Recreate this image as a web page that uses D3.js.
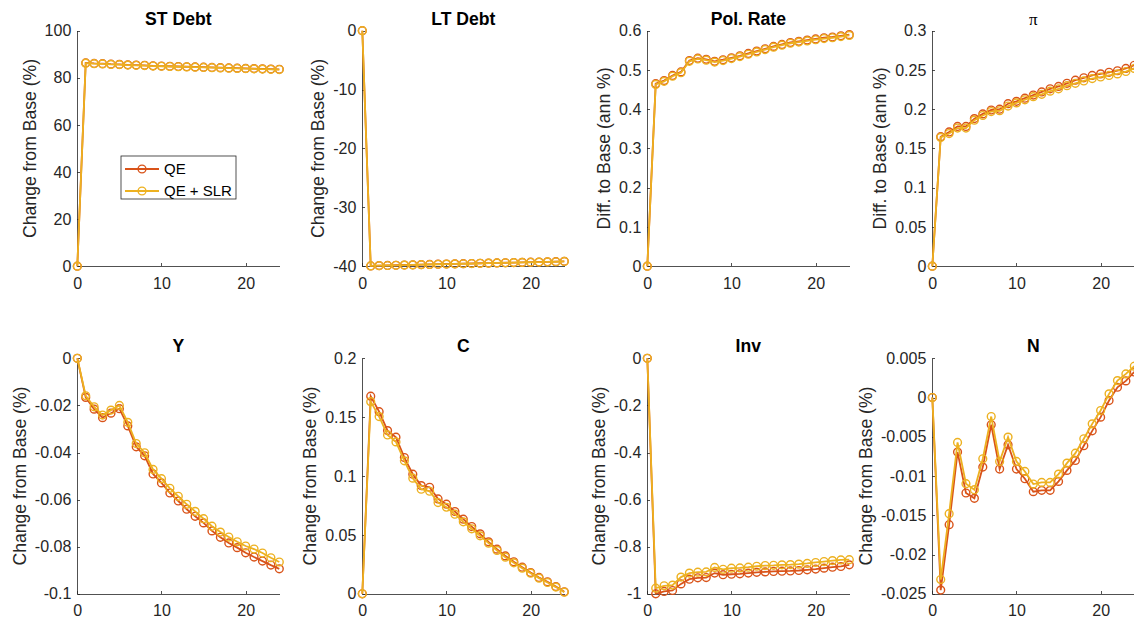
<!DOCTYPE html>
<html>
<head>
  <meta charset="utf-8">
  <title>QE vs QE + SLR</title>
  <script src="https://cdn.jsdelivr.net/npm/d3@7"></script>
  <style>
    body { margin: 0; background: #fff; }
    .axis path, .axis line { fill: none; stroke: #262626; stroke-width: 0.8; shape-rendering: crispEdges; }
    .axis text { font-family: "Liberation Sans", Arial, sans-serif; font-size: 16px; fill: #262626; }
    .title { font-family: "Liberation Sans", Arial, sans-serif; font-size: 17.6px; font-weight: bold; fill: #000; }
    .ylabel { font-family: "Liberation Sans", Arial, sans-serif; font-size: 17.6px; fill: #262626; }
    .legend text { font-family: "Liberation Sans", Arial, sans-serif; font-size: 15px; fill: #000; }
  </style>
</head>
<body>
  <div id="box"></div>
  <script>
    // periods (x axis)
    const periods = [0, 1, 2, 3, 4, 5, 6, 7, 8, 9, 10, 11, 12, 13, 14, 15, 16, 17, 18, 19, 20, 21, 22, 23, 24]
    const xTicks = [0, 10, 20]

    const seriesNames = ['QE', 'QE + SLR']
    const seriesColors = ['#D95319', '#EDB120']

    const titles = ['ST Debt', 'LT Debt', 'Pol. Rate', 'π', 'Y', 'C', 'Inv', 'N']
    const yLabels = ['Change from Base (%)', 'Change from Base (%)', 'Diff. to Base (ann %)', 'Diff. to Base (ann %)',
      'Change from Base (%)', 'Change from Base (%)', 'Change from Base (%)', 'Change from Base (%)']

    // y tick values per panel (first = bottom, last = top)
    const ticksSTDebt = [0, 20, 40, 60, 80, 100]
    const ticksLTDebt = [-40, -30, -20, -10, 0]
    const ticksPolRate = [0, 0.1, 0.2, 0.3, 0.4, 0.5, 0.6]
    const ticksPi = [0, 0.05, 0.1, 0.15, 0.2, 0.25, 0.3]
    const ticksY = [-0.1, -0.08, -0.06, -0.04, -0.02, 0]
    const ticksC = [0, 0.05, 0.1, 0.15, 0.2]
    const ticksInv = [-1, -0.8, -0.6, -0.4, -0.2, 0]
    const ticksN = [-0.025, -0.02, -0.015, -0.01, -0.005, 0, 0.005]

    // responses
    const stDebtQE = [0, 86.3, 86.1, 86.0, 85.8, 85.7, 85.5, 85.4, 85.3, 85.1, 85.0, 84.9, 84.8, 84.7, 84.6, 84.5, 84.4, 84.3, 84.2, 84.1, 84.0, 83.9, 83.8, 83.7, 83.6]
    const stDebtSLR = [0, 86.2, 86.0, 85.9, 85.7, 85.6, 85.4, 85.3, 85.2, 85.0, 84.9, 84.8, 84.7, 84.6, 84.5, 84.4, 84.3, 84.2, 84.1, 84.0, 83.9, 83.8, 83.7, 83.6, 83.5]

    const ltDebtQE = [0, -39.95, -39.9, -39.87, -39.84, -39.8, -39.77, -39.73, -39.7, -39.66, -39.63, -39.6, -39.57, -39.54, -39.5, -39.47, -39.44, -39.41, -39.38, -39.35, -39.32, -39.29, -39.26, -39.23, -39.18]
    const ltDebtSLR = [0, -39.95, -39.91, -39.88, -39.85, -39.81, -39.78, -39.74, -39.71, -39.67, -39.64, -39.61, -39.58, -39.55, -39.51, -39.48, -39.45, -39.42, -39.39, -39.36, -39.33, -39.3, -39.27, -39.24, -39.19]

    const polRateQE = [0, 0.465, 0.473, 0.486, 0.495, 0.524, 0.530, 0.527, 0.522, 0.526, 0.531, 0.536, 0.542, 0.548, 0.554, 0.560, 0.565, 0.570, 0.573, 0.576, 0.579, 0.582, 0.584, 0.587, 0.590]
    const polRateSLR = [0, 0.463, 0.471, 0.484, 0.493, 0.522, 0.528, 0.525, 0.520, 0.524, 0.529, 0.534, 0.540, 0.546, 0.552, 0.558, 0.563, 0.568, 0.571, 0.574, 0.577, 0.580, 0.582, 0.585, 0.588]

    const piQE = [0, 0.165, 0.171, 0.178, 0.178, 0.188, 0.194, 0.199, 0.200, 0.207, 0.210, 0.214, 0.218, 0.222, 0.226, 0.229, 0.233, 0.237, 0.240, 0.243, 0.245, 0.247, 0.249, 0.252, 0.256]
    const piSLR = [0, 0.164, 0.169, 0.176, 0.176, 0.186, 0.192, 0.197, 0.198, 0.204, 0.208, 0.212, 0.216, 0.219, 0.223, 0.226, 0.230, 0.233, 0.236, 0.239, 0.241, 0.243, 0.245, 0.248, 0.252]

    const yQE = [0, -0.0166, -0.0216, -0.0252, -0.0233, -0.0214, -0.0287, -0.0376, -0.0414, -0.0491, -0.0529, -0.0572, -0.0606, -0.0641, -0.0671, -0.0699, -0.0733, -0.0760, -0.0784, -0.0804, -0.0826, -0.0844, -0.0861, -0.0878, -0.0894]
    const ySLR = [0, -0.0159, -0.0206, -0.0241, -0.0220, -0.0200, -0.0272, -0.0362, -0.0401, -0.0472, -0.0511, -0.0552, -0.0586, -0.0620, -0.0650, -0.0681, -0.0713, -0.0738, -0.0759, -0.0779, -0.0797, -0.0810, -0.0827, -0.0847, -0.0865]

    const cQE = [0, 0.1678, 0.1547, 0.1386, 0.1330, 0.1157, 0.1016, 0.0919, 0.0905, 0.0806, 0.0761, 0.0699, 0.0634, 0.0571, 0.0509, 0.0441, 0.0379, 0.0322, 0.0272, 0.0226, 0.0181, 0.0139, 0.0102, 0.0062, 0.0017]
    const cSLR = [0, 0.1632, 0.1505, 0.1349, 0.1290, 0.1129, 0.0982, 0.0888, 0.0871, 0.0775, 0.0735, 0.0676, 0.0611, 0.0552, 0.0492, 0.0430, 0.0368, 0.0311, 0.0263, 0.0218, 0.0175, 0.0133, 0.0096, 0.0057, 0.0014]

    const invQE = [0, -1.0, -0.990, -0.986, -0.958, -0.938, -0.932, -0.931, -0.912, -0.919, -0.917, -0.915, -0.912, -0.909, -0.907, -0.905, -0.904, -0.903, -0.901, -0.898, -0.895, -0.891, -0.887, -0.884, -0.877]
    const invSLR = [0, -0.976, -0.966, -0.963, -0.929, -0.912, -0.908, -0.907, -0.888, -0.896, -0.891, -0.890, -0.887, -0.883, -0.880, -0.879, -0.877, -0.876, -0.874, -0.871, -0.867, -0.863, -0.859, -0.856, -0.855]

    const nQE = [0, -0.02453, -0.01619, -0.00695, -0.01216, -0.01284, -0.00886, -0.00347, -0.00911, -0.00602, -0.00911, -0.01034, -0.01199, -0.01182, -0.01182, -0.01068, -0.00928, -0.00801, -0.00614, -0.00424, -0.00250, -0.00038, 0.00131, 0.00212, 0.00326]
    const nSLR = [0, -0.02318, -0.01479, -0.00572, -0.01097, -0.01174, -0.00780, -0.00242, -0.00814, -0.00504, -0.00814, -0.00941, -0.01102, -0.01081, -0.01081, -0.00975, -0.00835, -0.00708, -0.00525, -0.00335, -0.00165, 0.00047, 0.00216, 0.00301, 0.00400]

    const panelTicks = [ticksSTDebt, ticksLTDebt, ticksPolRate, ticksPi, ticksY, ticksC, ticksInv, ticksN]
    const panelSeries = [
      [stDebtQE, stDebtSLR], [ltDebtQE, ltDebtSLR], [polRateQE, polRateSLR], [piQE, piSLR],
      [yQE, ySLR], [cQE, cSLR], [invQE, invSLR], [nQE, nSLR]
    ]

    // layout
    const width = 1134
    const height = 618
    const colLeft = [77.3, 362.3, 647.3, 932.3]
    const rowTop = [30.7, 358.3]
    const pw = 202
    const ph = 235.5

    const svg = d3.select('#box').append('svg')
      .attr('width', width)
      .attr('height', height)

    titles.forEach((title, i) => {
      const col = i % 4
      const row = Math.floor(i / 4)
      const ticks = panelTicks[i]

      const g = svg.append('g')
        .attr('transform', `translate(${colLeft[col]},${rowTop[row]})`)

      const xScale = d3.scaleLinear().domain([0, 24]).range([0, pw])
      const yScale = d3.scaleLinear().domain([ticks[0], ticks[ticks.length - 1]]).range([ph, 0])

      g.append('g')
        .attr('class', 'axis')
        .attr('transform', `translate(0,${ph})`)
        .call(d3.axisBottom(xScale).tickValues(xTicks).tickSize(-3).tickSizeOuter(0).tickPadding(11)
          .tickFormat(d => String(d)))

      const yAxisG = g.append('g')
        .attr('class', 'axis')
        .call(d3.axisLeft(yScale).tickValues(ticks).tickSize(-3).tickSizeOuter(0).tickPadding(6)
          .tickFormat(d => String(d)))

      // y label placed left of the widest tick label
      let minX = 0
      yAxisG.selectAll('.tick text').each(function () {
        const b = this.getBBox()
        minX = Math.min(minX, b.x)
      })
      g.append('text')
        .attr('class', 'ylabel')
        .attr('transform', `translate(${minX - 9},${ph / 2}) rotate(-90)`)
        .attr('text-anchor', 'middle')
        .text(yLabels[i])

      const t = g.append('text')
        .attr('class', 'title')
        .attr('x', pw / 2)
        .attr('y', -6)
        .attr('text-anchor', 'middle')
        .text(title)
      if (title === 'π') {
        t.style('font-family', '"Liberation Serif", serif').style('font-weight', 'normal').style('font-size', '17px')
      }

      const line = d3.line()
        .x((d, k) => xScale(periods[k]))
        .y(d => yScale(d))

      panelSeries[i].forEach((vals, s) => {
        g.append('path')
          .datum(vals)
          .attr('d', line)
          .attr('fill', 'none')
          .attr('stroke', seriesColors[s])
          .attr('stroke-width', 1.8)

        g.selectAll('.m' + s)
          .data(vals)
          .enter()
          .append('circle')
          .attr('class', 'm' + s)
          .attr('cx', (d, k) => xScale(periods[k]))
          .attr('cy', d => yScale(d))
          .attr('r', 3.9)
          .attr('fill', 'none')
          .attr('stroke', seriesColors[s])
          .attr('stroke-width', 1.4)
      })

      // legend in the first panel
      if (i === 0) {
        const lg = g.append('g')
          .attr('class', 'legend')
          .attr('transform', 'translate(43.7,125.3)')
        lg.append('rect')
          .attr('width', 115)
          .attr('height', 43)
          .attr('fill', '#fff')
          .attr('stroke', '#262626')
          .attr('stroke-width', 0.8)
        seriesNames.forEach((name, s) => {
          const yy = 13 + s * 22
          lg.append('line')
            .attr('x1', 4).attr('x2', 38)
            .attr('y1', yy).attr('y2', yy)
            .attr('stroke', seriesColors[s])
            .attr('stroke-width', 1.8)
          lg.append('circle')
            .attr('cx', 21).attr('cy', yy).attr('r', 3.9)
            .attr('fill', 'none')
            .attr('stroke', seriesColors[s])
            .attr('stroke-width', 1.4)
          lg.append('text')
            .attr('x', 43)
            .attr('y', yy)
            .attr('dy', '0.35em')
            .text(name)
        })
      }
    })
  </script>
</body>
</html>
